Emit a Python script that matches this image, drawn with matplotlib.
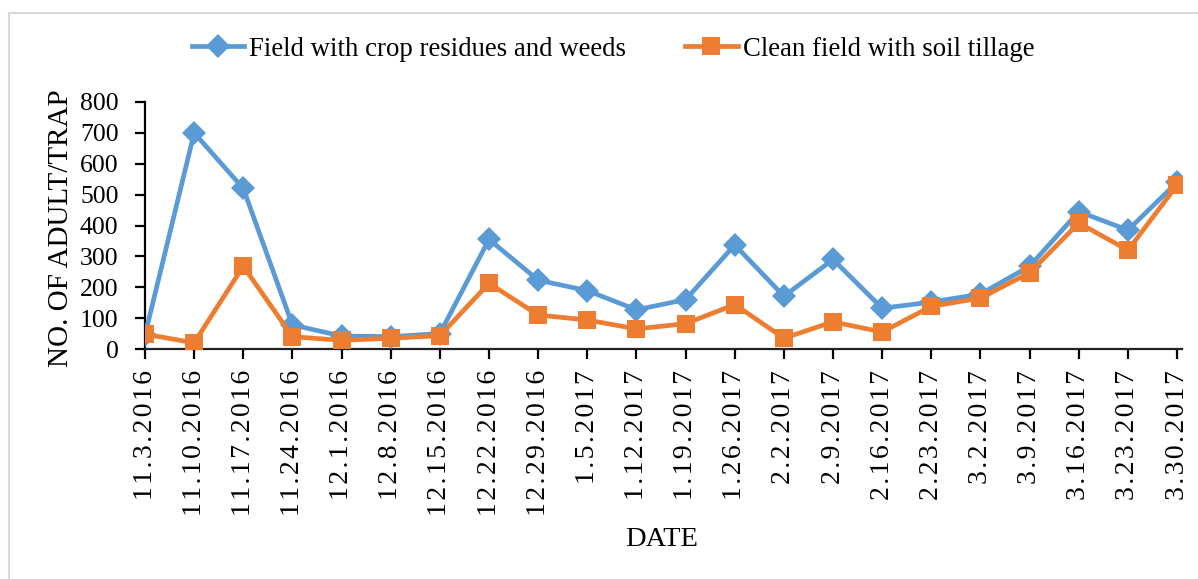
import matplotlib
matplotlib.use("Agg")
import matplotlib.pyplot as plt
from matplotlib.lines import Line2D

dates = ["11.3.2016", "11.10.2016", "11.17.2016", "11.24.2016", "12.1.2016",
         "12.8.2016", "12.15.2016", "12.22.2016", "12.29.2016", "1.5.2017",
         "1.12.2017", "1.19.2017", "1.26.2017", "2.2.2017", "2.9.2017",
         "2.16.2017", "2.23.2017", "3.2.2017", "3.9.2017", "3.16.2017",
         "3.23.2017", "3.30.2017"]
residues_weeds = [45, 700, 520, 78, 42, 40, 50, 355, 223, 189, 127, 160, 337,
                  171, 290, 132, 152, 178, 268, 445, 385, 540]
clean_tillage = [48, 20, 268, 40, 28, 35, 43, 213, 110, 94, 65, 82, 144,
                 35, 88, 55, 138, 165, 247, 408, 320, 531]

BLUE = "#5B9BD5"
ORANGE = "#ED7D31"
SERIF = ["Liberation Serif", "DejaVu Serif"]

plt.rcParams["font.family"] = SERIF

fig = plt.figure(figsize=(11.98, 5.79), dpi=100)
W, H = 1198, 579
ax = fig.add_axes([145 / W, 1 - 349 / H, (1182 - 145) / W, (349 - 102) / H])

x = list(range(len(dates)))
ax.plot(x, residues_weeds, color=BLUE, lw=3.4, marker="D", ms=12, mew=0,
        label="Field with crop residues and weeds", zorder=3)
ax.plot(x, clean_tillage, color=ORANGE, lw=3.4, marker="s", ms=13, mew=0,
        label="Clean field with soil tillage", zorder=4)

ax.set_xlim(0, len(dates) - 1 + 0.1)
ax.set_ylim(0, 800)
ax.set_yticks(range(0, 801, 100))
ax.set_xticks(x)
spaced = ["\u200a".join(d) for d in dates]
ax.set_xticklabels(spaced, rotation=90, fontsize=20)
ax.tick_params(axis="x", direction="out", length=7, width=1.6, pad=8)
ax.tick_params(axis="y", direction="out", length=7, width=1.6, pad=12, labelsize=18.5)

for s in ("top", "right"):
    ax.spines[s].set_visible(False)
for s in ("left", "bottom"):
    ax.spines[s].set_linewidth(1.6)
ax.spines["left"].set_color("black")
ax.spines["bottom"].set_color("#222222")

fig.text(61 / W, 1 - 228 / H, "NO. OF ADULT/TRAP", rotation=90,
         ha="center", va="center", fontsize=21)
fig.text(662 / W, 1 - 540 / H, "DATE", ha="center", va="center", fontsize=20.5)

handles = [
    Line2D([], [], color=BLUE, lw=3.4, marker="D", ms=12, mew=0),
    Line2D([], [], color=ORANGE, lw=3.4, marker="s", ms=13, mew=0),
]
fig.legend(handles, ["Field with crop residues and weeds", "Clean field with soil tillage"],
           loc="center", bbox_to_anchor=(613 / W, 1 - 49 / H), ncol=2,
           frameon=False, fontsize=19.3, handlelength=1.95, handletextpad=0.2,
           columnspacing=2.2)

# light chart-area border (only top and left edges visible in the crop)
fig.add_artist(Line2D([8.5 / W, 8.5 / W], [0, 1 - 12.5 / H], color="#d9d9d9", lw=1.5,
                      transform=fig.transFigure))
fig.add_artist(Line2D([8.5 / W, 1], [1 - 12.5 / H, 1 - 12.5 / H], color="#d9d9d9", lw=1.5,
                      transform=fig.transFigure))

fig.savefig("out.png", dpi=100)
